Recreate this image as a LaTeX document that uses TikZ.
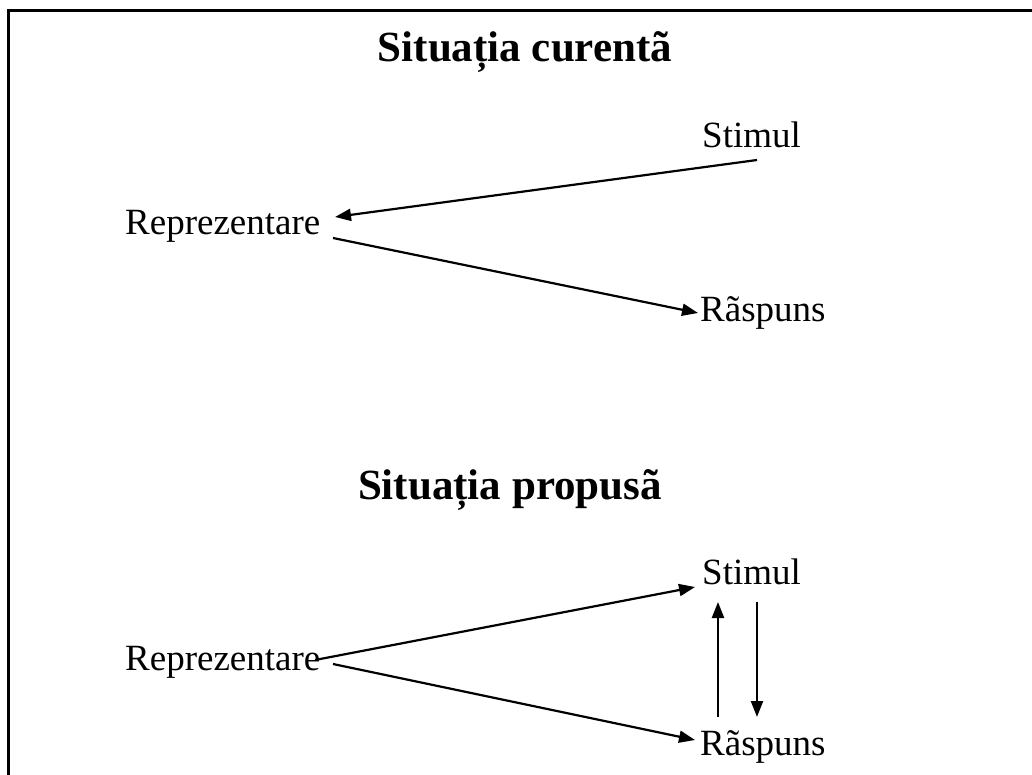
\documentclass[tikz,border=0pt]{standalone}
\usepackage{fontspec}
\setmainfont{Liberation Serif}
\usetikzlibrary{arrows.meta}
\begin{document}
\begin{tikzpicture}[x=1pt,y=-1pt,
  lbl/.style={inner sep=0pt,anchor=base west,font=\fontsize{37}{44}\selectfont},
  ttl/.style={inner sep=0pt,anchor=base,font=\bfseries\fontsize{43}{50}\selectfont},
  conn/.style={line width=2.2pt,-{Triangle[length=16pt,width=12pt]}}]
\useasboundingbox (0,0) rectangle (1032,775);
\draw[line width=3pt] (8,776) -- (8,11) -- (1033,11);
% top
\node[ttl] (t1) at (525,62) {Situația curentã};
\node[lbl] (stim1) at (702,148) {Stimul};
\node[lbl] (rep1) at (125,235) {Reprezentare};
\node[lbl] (rasp1) at (700,321) {Rãspuns};
\draw[conn] ([shift={(55,12)}]stim1.base west) -- ([shift={(210,-18)}]rep1.base west);
\draw[conn] ([shift={(208,3)}]rep1.base west) -- ([shift={(-2,-8)}]rasp1.base west);
% bottom
\node[ttl] (t2) at (510,499) {Situația propusã};
\node[lbl] (stim2) at (702,584) {Stimul};
\node[lbl] (rep2) at (125,670) {Reprezentare};
\node[lbl] (rasp2) at (700,755) {Rãspuns};
\draw[conn] ([shift={(190,-10)}]rep2.base west) -- ([shift={(-7,3)}]stim2.base west);
\draw[conn] ([shift={(208,-6)}]rep2.base west) -- ([shift={(-5,-15)}]rasp2.base west);
\draw[conn] ([shift={(18,-38)}]rasp2.base west) -- ([shift={(16,18)}]stim2.base west);
\draw[conn] ([shift={(55,18)}]stim2.base west) -- ([shift={(57,-38)}]rasp2.base west);
\end{tikzpicture}
\end{document}
